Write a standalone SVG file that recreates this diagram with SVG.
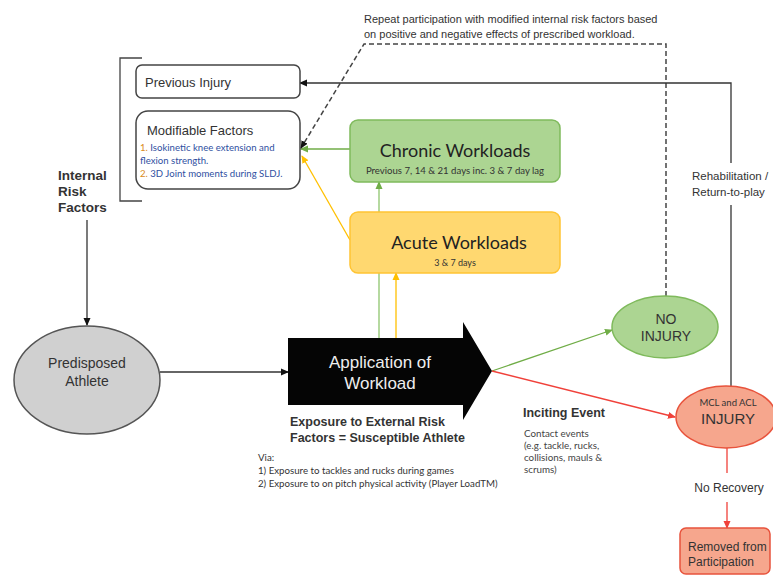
<svg xmlns="http://www.w3.org/2000/svg" width="773" height="576" viewBox="0 0 773 576">
<defs>
<style>
.ar{font-family:"Liberation Sans",Arial,sans-serif}
.cal{font-family:Lato,"Open Sans",sans-serif}
.ln{fill:none;stroke-width:1.3}
</style>
<marker id="mk" markerWidth="8" markerHeight="8" refX="7" refY="4" orient="auto" markerUnits="userSpaceOnUse"><path d="M0,0.5 L8,4 L0,7.5 z" fill="#111"/></marker>
<marker id="mg" markerWidth="8" markerHeight="8" refX="7" refY="4" orient="auto" markerUnits="userSpaceOnUse"><path d="M0,0.5 L8,4 L0,7.5 z" fill="#70ad47"/></marker>
<marker id="my" markerWidth="8" markerHeight="8" refX="7" refY="4" orient="auto" markerUnits="userSpaceOnUse"><path d="M0,0.5 L8,4 L0,7.5 z" fill="#ffc000"/></marker>
<marker id="mr" markerWidth="8" markerHeight="8" refX="7" refY="4" orient="auto" markerUnits="userSpaceOnUse"><path d="M0,0.5 L8,4 L0,7.5 z" fill="#f0413a"/></marker>
</defs>
<rect width="773" height="576" fill="#fff"/>

<g id="connectors">
<path class="ln" d="M142,58 H120 V201 H142" stroke="#444"/>
<line class="ln" x1="87" y1="220" x2="87" y2="325" stroke="#333" marker-end="url(#mk)"/>
<line class="ln" x1="160" y1="372" x2="288" y2="372" stroke="#333" marker-end="url(#mk)"/>
<line class="ln" x1="350" y1="149" x2="301" y2="149" stroke="#70ad47" marker-end="url(#mg)"/>
<line class="ln" x1="350" y1="240" x2="302" y2="156" stroke="#ffc000" marker-end="url(#my)"/>
<line class="ln" x1="379" y1="338" x2="379" y2="182" stroke="#8ec56d" marker-end="url(#mg)"/>
<line class="ln" x1="396" y1="338" x2="396" y2="273" stroke="#ffc000" marker-end="url(#my)"/>
<line class="ln" x1="492" y1="371" x2="612" y2="330" stroke="#70ad47" marker-end="url(#mg)"/>
<line class="ln" x1="492" y1="371" x2="675" y2="417" stroke="#f0413a" marker-end="url(#mr)"/>
<path d="M666,296 V44 H364 L301,148" fill="none" stroke="#444" stroke-width="1.5" stroke-dasharray="5,3" marker-end="url(#mk)"/>
<path class="ln" d="M731,386 V205" stroke="#333"/>
<path class="ln" d="M731,163 V83 H300" stroke="#333" marker-end="url(#mk)"/>
<line class="ln" x1="727" y1="448" x2="727" y2="473" stroke="#f0413a"/>
<line class="ln" x1="727" y1="502" x2="727" y2="528" stroke="#f0413a" marker-end="url(#mr)"/>
</g>

<g id="repeat-label" class="ar" font-size="11" fill="#333">
<text x="364" y="23">Repeat participation with modified internal risk factors based</text>
<text x="364" y="38">on positive and negative effects of prescribed workload.</text>
</g>

<g id="previous-injury">
<rect x="136" y="65" width="164" height="33" rx="6" fill="#fff" stroke="#444" stroke-width="1.5"/>
<text class="ar" x="145" y="87" font-size="13" fill="#333">Previous Injury</text>
</g>

<g id="modifiable-factors">
<rect x="136" y="111" width="164" height="78" rx="12" fill="#fff" stroke="#444" stroke-width="1.5"/>
<text class="ar" x="147" y="135" font-size="13" fill="#333">Modifiable Factors</text>
<g class="cal" font-size="9.6" fill="#2f4f9f">
<text x="140" y="151"><tspan fill="#d98b1a">1.</tspan> Isokinetic knee extension and</text>
<text x="140" y="164">flexion strength.</text>
<text x="140" y="177"><tspan fill="#d98b1a">2.</tspan> 3D Joint moments during SLDJ.</text>
</g>
</g>

<g id="internal-risk-factors" class="ar" font-size="13.5" font-weight="bold" fill="#333">
<text x="58" y="180">Internal</text>
<text x="58" y="196">Risk</text>
<text x="58" y="212">Factors</text>
</g>

<g id="chronic-workloads">
<rect x="350" y="120" width="210" height="62" rx="8" fill="#acd592" stroke="#7fba5c" stroke-width="1.5"/>
<text class="cal" x="455" y="157" font-size="18" fill="#222" text-anchor="middle">Chronic Workloads</text>
<text class="cal" x="455" y="174" font-size="9.6" fill="#333" text-anchor="middle">Previous 7, 14 &amp; 21 days inc. 3 &amp; 7 day lag</text>
</g>

<g id="acute-workloads">
<rect x="350" y="212" width="210" height="61" rx="8" fill="#ffd870" stroke="#ffc433" stroke-width="1.5"/>
<text class="cal" x="459" y="249" font-size="18" fill="#222" text-anchor="middle">Acute Workloads</text>
<text class="cal" x="455" y="266" font-size="9" fill="#333" text-anchor="middle">3 &amp; 7 days</text>
</g>

<g id="predisposed-athlete">
<ellipse cx="87" cy="380" rx="73" ry="54" fill="#d0d0d0" stroke="#555" stroke-width="1.5"/>
<text class="ar" x="87" y="368" font-size="14" fill="#333" text-anchor="middle">Predisposed</text>
<text class="ar" x="87" y="386" font-size="14" fill="#333" text-anchor="middle">Athlete</text>
</g>

<g id="application-of-workload">
<polygon points="288,338 463,338 463,322 492,371 463,420 463,405 288,405" fill="#050505"/>
<text class="ar" x="380" y="368" font-size="17" fill="#eee" text-anchor="middle">Application of</text>
<text class="ar" x="380" y="389" font-size="17" fill="#eee" text-anchor="middle">Workload</text>
</g>

<g id="exposure-label">
<text class="ar" x="290" y="426" font-size="12.5" font-weight="bold" fill="#333">Exposure to External Risk</text>
<text class="ar" x="290" y="442" font-size="12.5" font-weight="bold" fill="#333">Factors = Susceptible Athlete</text>
<g class="cal" font-size="9.7" fill="#333">
<text x="258" y="461">Via:</text>
<text x="258" y="474">1) Exposure to tackles and rucks during games</text>
<text x="258" y="487">2) Exposure to on pitch physical activity (Player LoadTM)</text>
</g>
</g>

<g id="no-injury">
<ellipse cx="665" cy="327" rx="53" ry="31" fill="#acd592" stroke="#7fba5c" stroke-width="1.5"/>
<text class="ar" x="666" y="324" font-size="14" fill="#333" text-anchor="middle">NO</text>
<text class="ar" x="666" y="341" font-size="14" fill="#333" text-anchor="middle">INJURY</text>
</g>

<g id="injury">
<ellipse cx="726" cy="417" rx="50" ry="31" fill="#f6a68d" stroke="#e8533c" stroke-width="1.5"/>
<text class="cal" x="728" y="406" font-size="9.5" fill="#333" text-anchor="middle">MCL and ACL</text>
<text class="ar" x="728" y="424" font-size="15" fill="#333" text-anchor="middle">INJURY</text>
</g>

<g id="inciting-event">
<text class="ar" x="523" y="417" font-size="12.5" font-weight="bold" fill="#333">Inciting Event</text>
<g class="cal" font-size="9.8" fill="#444">
<text x="524" y="437">Contact events</text>
<text x="524" y="449">(e.g. tackle, rucks,</text>
<text x="524" y="461">collisions, mauls &amp;</text>
<text x="524" y="473">scrums)</text>
</g>
</g>

<g id="rehab-label" class="ar" font-size="11.5" fill="#333">
<text x="692" y="180">Rehabilitation /</text>
<text x="692" y="196">Return-to-play</text>
</g>

<g id="no-recovery-label">
<text class="ar" x="729" y="492" font-size="12" fill="#333" text-anchor="middle">No Recovery</text>
</g>

<g id="removed">
<rect x="680" y="528" width="90" height="46" rx="6" fill="#f6a68d" stroke="#e8533c" stroke-width="1.5"/>
<text class="ar" x="688" y="551" font-size="12" fill="#333">Removed from</text>
<text class="ar" x="688" y="566" font-size="12" fill="#333">Participation</text>
</g>
</svg>
